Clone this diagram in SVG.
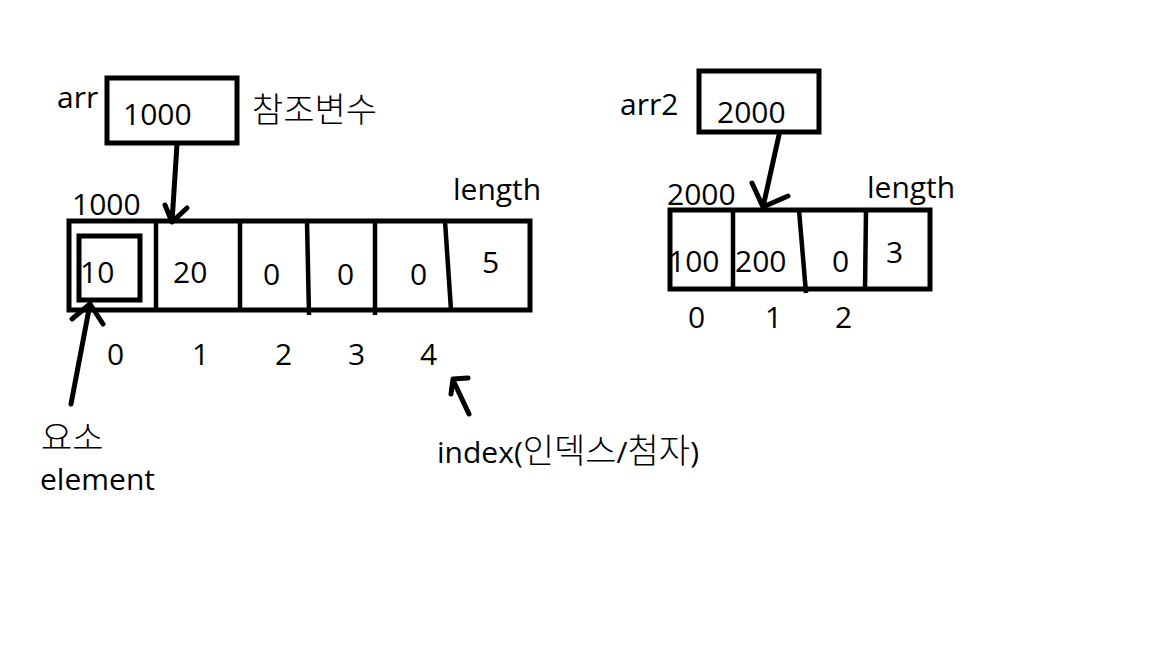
<svg xmlns="http://www.w3.org/2000/svg" width="1152" height="648" viewBox="0 0 1152 648">
<style>
  .t { font-family: "Open Sans", "Noto Sans CJK KR", sans-serif; font-size: 30px; fill: #000; }
  .k { font-family: "Noto Sans CJK KR", sans-serif; font-size: 34px; font-weight: 300; }
  .box { fill: none; stroke: #000; stroke-width: 5; }
  .ln { fill: none; stroke: #000; stroke-width: 5; stroke-linecap: round; stroke-linejoin: round; }
  .dv { fill: none; stroke: #000; stroke-width: 4.5; }
</style>
<rect width="1152" height="648" fill="#fff"/>

<g id="arr">
  <rect class="box" x="107" y="78" width="130" height="65"/>
  <text class="t" x="57" y="108">arr</text>
  <text class="t" x="123" y="125">1000</text>
  <text class="t k" x="252" y="122">참조변수</text>
</g>

<g id="array1">
  <rect class="box" x="69" y="221" width="461" height="89"/>
  <rect class="box" x="79" y="236" width="61" height="64"/>
  <line class="dv" x1="156" y1="221" x2="156" y2="310"/>
  <line class="dv" x1="240" y1="221" x2="240" y2="310"/>
  <line class="dv" x1="307" y1="221" x2="309" y2="315"/>
  <line class="dv" x1="375" y1="221" x2="375" y2="315"/>
  <line class="dv" x1="445" y1="221" x2="451" y2="310"/>
  <text class="t" x="72" y="215">1000</text>
  <text class="t" x="453" y="200">length</text>
  <text class="t" x="80" y="283">10</text>
  <text class="t" x="173" y="283">20</text>
  <text class="t" x="263" y="285">0</text>
  <text class="t" x="337" y="285">0</text>
  <text class="t" x="410" y="285">0</text>
  <text class="t" x="482" y="273">5</text>
  <text class="t" x="107" y="365">0</text>
  <text class="t" x="192" y="365">1</text>
  <text class="t" x="275" y="365">2</text>
  <text class="t" x="348" y="365">3</text>
  <text class="t" x="420" y="365">4</text>
</g>

<g id="arr2">
  <rect class="box" x="699" y="71" width="120" height="61"/>
  <text class="t" x="620" y="115">arr2</text>
  <text class="t" x="717" y="123">2000</text>
</g>

<g id="array2">
  <rect class="box" x="670" y="210" width="260" height="79"/>
  <line class="dv" x1="733" y1="210" x2="733" y2="289"/>
  <line class="dv" x1="799" y1="210" x2="806" y2="293"/>
  <line class="dv" x1="866" y1="210" x2="865" y2="291"/>
  <text class="t" x="667" y="205">2000</text>
  <text class="t" x="867" y="198">length</text>
  <text class="t" x="668" y="272">100</text>
  <text class="t" x="735" y="272">200</text>
  <text class="t" x="832" y="272">0</text>
  <text class="t" x="886" y="263">3</text>
  <text class="t" x="688" y="328">0</text>
  <text class="t" x="765" y="328">1</text>
  <text class="t" x="835" y="328">2</text>
</g>

<g id="element-label">
  <text class="t k" x="41" y="450">요소</text>
  <text class="t" x="40" y="490">element</text>
</g>

<g id="index-label">
  <text class="t" x="437" y="463">index(<tspan class="k" font-size="35">인덱스</tspan>/<tspan class="k" font-size="35">첨자</tspan>)</text>
</g>

<g id="connectors">
  <path class="ln" d="M177 144 L172 222 M165 205 L172 222 L187 208"/>
  <path class="ln" d="M779 135 L763 207 M752 183 L763 207 L788 196"/>
  <path class="ln" d="M71 404 L90 304 M72 319 L90 304 L103 324"/>
  <path class="ln" d="M469 414 L453 380 M451 394 L453 379 L468 378"/>
</g>
</svg>
